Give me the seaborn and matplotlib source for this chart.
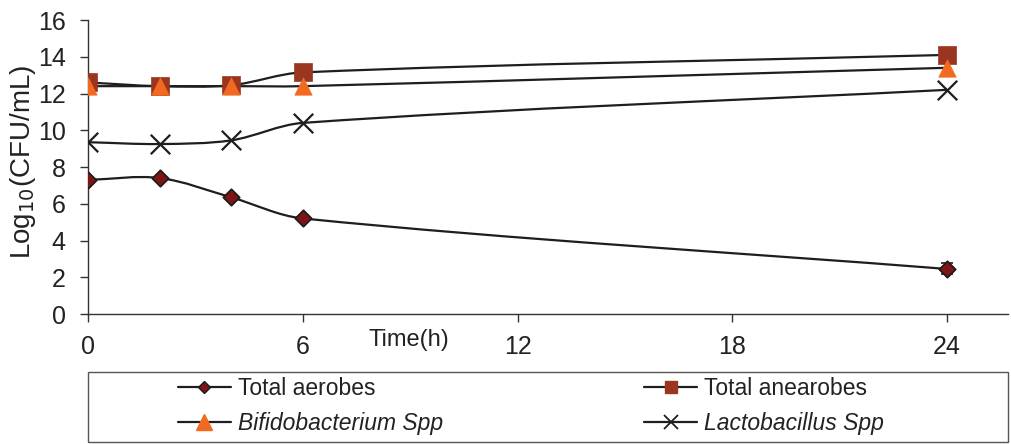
import numpy as np
import pandas as pd
import matplotlib
matplotlib.use("Agg")
import matplotlib.pyplot as plt
from matplotlib.path import Path
from matplotlib.patches import PathPatch, Rectangle
from matplotlib.lines import Line2D
import seaborn as sns

# Sampling times (h) and log10 counts for each group
time_h = [0, 2, 4, 6, 24]
total_aerobes = [7.3, 7.4, 6.35, 5.2, 2.45]
total_anaerobes = [12.6, 12.4, 12.45, 13.15, 14.1]
bifidobacterium = [12.4, 12.4, 12.4, 12.4, 13.4]
lactobacillus = [9.35, 9.25, 9.45, 10.4, 12.2]
aerobes_err_24 = 0.3

x_ticks = [0, 6, 12, 18, 24]
y_ticks = [0, 2, 4, 6, 8, 10, 12, 14, 16]

sns.set_theme(style="white")
plt.rcParams["font.family"] = ["Liberation Sans", "DejaVu Sans"]

W, H = 1012, 444
fig = plt.figure(figsize=(W / 100, H / 100), dpi=100)
left, right, bottom, top = 88 / W, 1008 / W, 1 - 314 / H, 1 - 20 / H
ax = fig.add_axes([left, bottom, right - left, top - bottom])

xmin, xmax, ymin, ymax = 0, 25.7, 0, 16
ax.set_xlim(xmin, xmax)
ax.set_ylim(ymin, ymax)

# pixel-per-unit scale, used so the smoothing follows the visual shape
sx = (right - left) * W / (xmax - xmin)
sy = (top - bottom) * H / (ymax - ymin)


def smooth_path(xs, ys):
    pts = np.column_stack([np.asarray(xs, float) * sx, np.asarray(ys, float) * sy])
    n = len(pts)
    tang = []
    for i in range(n):
        a = pts[max(i - 1, 0)]
        b = pts[min(i + 1, n - 1)]
        d = b - a
        tang.append(d / np.linalg.norm(d))
    verts = [pts[0]]
    codes = [Path.MOVETO]
    for i in range(n - 1):
        L = np.linalg.norm(pts[i + 1] - pts[i])
        c1 = pts[i] + tang[i] * L / 3
        c2 = pts[i + 1] - tang[i + 1] * L / 3
        verts += [c1, c2, pts[i + 1]]
        codes += [Path.CURVE4] * 3
    verts = np.array(verts) / np.array([sx, sy])
    return Path(verts, codes)


line_color = "#1e1e1e"
line_w = 1.6

# name, values, marker, colour, plot marker size, legend marker size, italic
series = [
    ("Total aerobes", total_aerobes, "D", "#7d1416", 8.4, 6.0, False),
    ("Total anearobes", total_anaerobes, "s", "#9a3620", 12.5, 9.0, False),
    ("Bifidobacterium Spp", bifidobacterium, "^", "#f26a21", 12.5, 11.0, True),
    ("Lactobacillus Spp", lactobacillus, "x", "#1e1e1e", 14, 9.5, True),
]

for name, vals, *_ in series:
    ax.add_patch(PathPatch(smooth_path(time_h, vals), fill=False,
                           edgecolor=line_color, lw=line_w, zorder=2))

ax.errorbar([24], [total_aerobes[-1]], yerr=[aerobes_err_24], fmt="none",
            ecolor=line_color, elinewidth=1.2, capsize=4, capthick=1.2, zorder=2)

df = pd.DataFrame({"time": time_h})
for k, (name, vals, mk, col, ms, lms, _) in enumerate(series):
    df["val"] = vals
    if mk == "x":
        sns.scatterplot(data=df, x="time", y="val", marker="x", s=ms ** 2,
                        color=col, linewidth=1.6, ax=ax, zorder=3 + k)
    else:
        edge = "#1a1a1a" if mk == "D" else col
        sns.scatterplot(data=df, x="time", y="val", marker=mk, s=ms ** 2,
                        color=col, edgecolor=edge, linewidth=1.2 if mk == "D" else 0.5,
                        ax=ax, zorder=3 + k)

ax.set_xticks(x_ticks)
ax.set_yticks(y_ticks)
ax.set_xlabel("")
ax.set_ylabel("Log$_{10}$(CFU/mL)", fontsize=20, color="#222222")
ax.yaxis.set_label_coords(-(88 - 38) / 920, (314 - 162) / 294)
for s in ["top", "right"]:
    ax.spines[s].set_visible(False)
for s in ["left", "bottom"]:
    ax.spines[s].set_color("#333333")
    ax.spines[s].set_linewidth(1.0)
ax.tick_params(axis="both", which="both", direction="out", color="#333333",
               labelcolor="#222222", labelsize=18, width=1.0)
ax.tick_params(axis="x", length=6, pad=9, bottom=True)
ax.tick_params(axis="y", length=6, pad=10, left=True)

fig.text(409 / W, 1 - 340 / H, "Time(h)", fontsize=17, color="#222222",
         ha="center", va="center")

# Legend below the plot inside a plain rectangular frame
handles = []
order = [0, 2, 1, 3]
for k in order:
    name, vals, mk, col, ms, lms, _ = series[k]
    if mk == "x":
        h = Line2D([], [], color=line_color, lw=line_w, marker="x",
                   markersize=lms, markeredgecolor=col, markeredgewidth=1.3)
    else:
        edge = "#1a1a1a" if mk == "D" else col
        h = Line2D([], [], color=line_color, lw=line_w, marker=mk,
                   markersize=lms, markerfacecolor=col,
                   markeredgecolor=edge, markeredgewidth=1.0)
    handles.append(h)
labels = [series[k][0] for k in order]
leg = fig.legend(handles, labels, loc="center left",
                 bbox_to_anchor=(178 / W, 1 - 406 / H), ncol=2, frameon=False,
                 fontsize=16.5, handlelength=2.3, handletextpad=0.3,
                 columnspacing=8.8, labelspacing=0.55, borderpad=0,
                 borderaxespad=0, numpoints=1)
for t, k in zip(leg.get_texts(), order):
    t.set_color("#222222")
    if series[k][6]:
        t.set_style("italic")

fig.patches.append(Rectangle((88 / W, 1 - 442 / H), 920 / W, 70 / H,
                             transform=fig.transFigure, fill=False,
                             edgecolor="#555555", lw=1.0))

fig.savefig("out.png", dpi=100)
